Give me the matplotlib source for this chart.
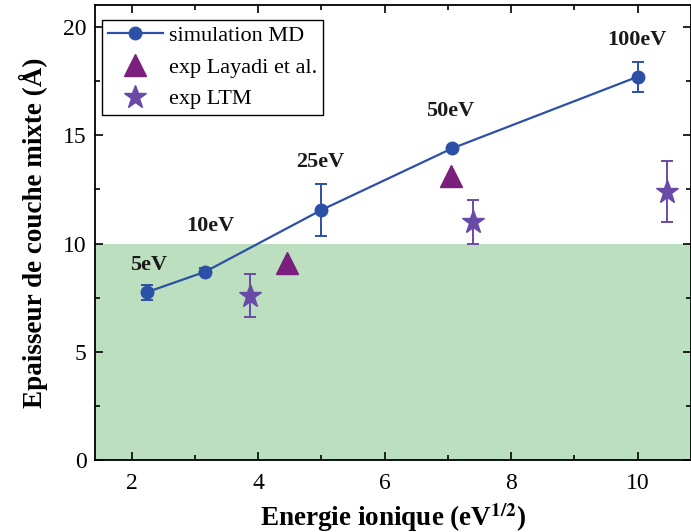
import numpy as np
import matplotlib.pyplot as plt
from matplotlib.ticker import MultipleLocator

plt.rcParams['font.family'] = ['Liberation Serif', 'DejaVu Serif']
plt.rcParams['mathtext.fontset'] = 'stix'

# simulation MD
md_x = np.sqrt([5, 10, 25, 50, 100])
md_y = [7.75, 8.7, 11.55, 14.4, 17.7]
md_err = [0.35, 0.15, 1.2, 0.0, 0.7]
md_labels = ['5eV', '10eV', '25eV', '50eV', '100eV']
lab_x = [2.26, 3.24, 4.98, 7.03, 9.99]
lab_y = [9.0, 10.8, 13.75, 16.1, 19.4]

# exp Layadi et al.
lay_x = [4.45, 7.05]
lay_y = [9.1, 13.1]

# exp LTM
ltm_x = [3.87, 7.4, 10.46]
ltm_y = [7.6, 11.0, 12.4]
ltm_err = [1.0, 1.0, 1.4]

c_md = '#2b50a5'
c_lay = '#7a1f7c'
c_ltm = '#6a4aa8'

fig = plt.figure(figsize=(6.91, 5.32), dpi=100)
ax = fig.add_axes([0.1375, 0.135, 0.862, 0.855])

ax.axhspan(0, 10, color='#bcdfc0', lw=0, zorder=0)

md = ax.errorbar(md_x, md_y, yerr=md_err, color=c_md, marker='o', ms=9, lw=1.6,
                 capsize=4.5, elinewidth=1.4, capthick=1.4, zorder=3)
lay, = ax.plot(lay_x, lay_y, ls='none', marker='^', ms=16, color=c_lay, zorder=3)
ltm = ax.errorbar(ltm_x, ltm_y, yerr=ltm_err, ls='none', marker='*', ms=17, color=c_ltm,
                  capsize=4.5, elinewidth=1.4, capthick=1.4, zorder=3)

for lx, ly, t in zip(lab_x, lab_y, md_labels):
    ax.text(lx, ly, t, ha='center', va='center', fontsize=16, fontweight='bold', color='#1a1a1a')

ax.set_xlim(1.42, 10.84)
ax.set_ylim(0, 21)
ax.xaxis.set_major_locator(MultipleLocator(2))
ax.xaxis.set_minor_locator(MultipleLocator(1))
ax.yaxis.set_major_locator(MultipleLocator(5))
ax.yaxis.set_minor_locator(MultipleLocator(2.5))
ax.tick_params(which='both', direction='in', top=True, right=True, labelsize=17, width=1.2)
ax.tick_params(which='major', length=6)
ax.tick_params(which='minor', length=3.5)
ax.tick_params(axis='x', pad=9)
ax.tick_params(axis='y', pad=6)
for s in ax.spines.values():
    s.set_linewidth(1.3)

ax.set_xlabel('Energie ionique (eV$^{\\mathbf{1/2}}$)', fontsize=19.5, fontweight='bold', labelpad=5)
ax.set_ylabel('Epaisseur de couche mixte (Å)', fontsize=19.5, fontweight='bold', labelpad=11)

leg = ax.legend([md[0], lay, ltm[0]], ['simulation MD', 'exp Layadi et al.', 'exp LTM'],
                loc='upper left', bbox_to_anchor=(0.012, 0.968), borderaxespad=0,
                fontsize=16, frameon=True, fancybox=False,
                edgecolor='black', framealpha=1, borderpad=0.25, handletextpad=0.25,
                labelspacing=0.5, handlelength=2.5)
leg.get_frame().set_linewidth(1.0)

fig.savefig('out.png', dpi=100)
